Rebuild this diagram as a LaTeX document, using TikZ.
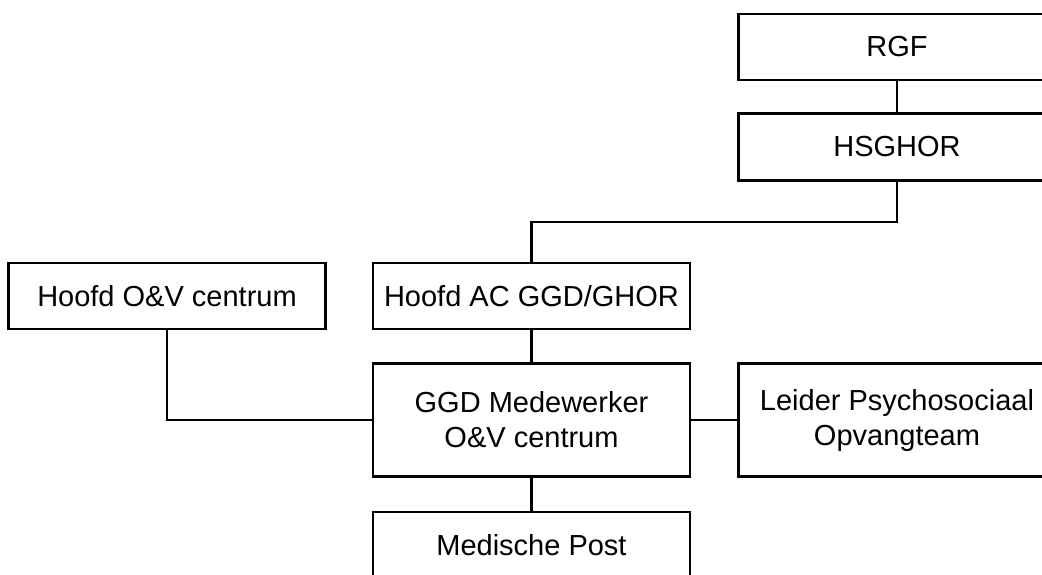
\documentclass[tikz,border=0pt]{standalone}
\usepackage{fontspec}
\setmainfont{Liberation Sans}
\begin{document}
\begin{tikzpicture}[x=1pt,y=1pt,
  box/.style={draw=black,line width=2.2pt,rectangle,minimum width=317pt,minimum height=66pt,inner sep=0pt,align=center,font=\fontsize{29}{35}\selectfont},
  tall/.style={box,minimum height=113pt},
  conn/.style={draw=black,line width=2.2pt}]
\clip (0,0) rectangle (1042,-574);
\useasboundingbox (0,0) rectangle (1042,-574);
\node[box] (rgf) at (897,-47) {RGF};
\node[box,minimum height=67pt] (hs) at (897,-147) {HSGHOR};
\node[box] (ov) at (167,-296) {Hoofd O\&V centrum};
\node[box] (ac) at (531.5,-296) {Hoofd AC GGD/GHOR};
\node[tall] (ggd) at (531.5,-420) {GGD Medewerker\\O\&V centrum};
\node[tall] (lei) at (897,-420) {Leider Psychosociaal\\Opvangteam};
\node[box] (mp) at (531.5,-545) {Medische Post};
\coordinate (bend) at (0,-222);
\draw[conn] (rgf.south) -- (hs.north);
\draw[conn] (hs.south) -- (hs.south |- bend) -| (ac.north);
\draw[conn] (ac.south) -- (ggd.north);
\draw[conn] (ov.south) |- (ggd.west);
\draw[conn] (ggd.east) -- (lei.west);
\draw[conn] (ggd.south) -- (mp.north);
\end{tikzpicture}
\end{document}
